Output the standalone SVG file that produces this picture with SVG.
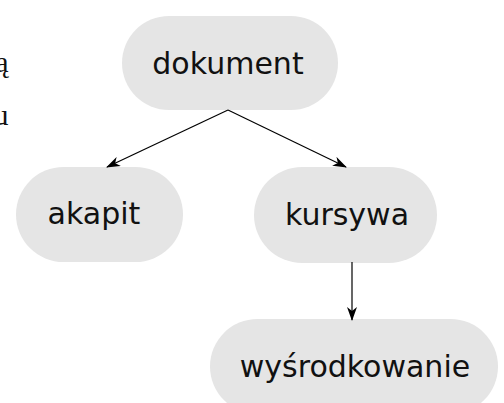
<svg xmlns="http://www.w3.org/2000/svg" width="504" height="403" viewBox="0 0 504 403">
<style>
.node rect{fill:#e5e5e5;stroke:none}
.node text{font-family:"DejaVu Sans",sans-serif;font-size:30px;fill:#111;text-anchor:middle}
.side{font-family:"Liberation Serif",serif;font-size:30px;fill:#111;text-anchor:end}
.edge{stroke:#000;stroke-width:1.2;fill:none;marker-end:url(#arr)}
</style>
<defs>
<marker id="arr" viewBox="0 0 14 10" refX="13" refY="5" markerWidth="14" markerHeight="10" markerUnits="userSpaceOnUse" orient="auto">
<path d="M0,0 L14,5 L0,10 L4,5 Z" fill="#000"/>
</marker>
</defs>
<rect width="504" height="403" fill="#fff"/>
<text class="side" x="8.5" y="72">ą</text>
<text class="side" x="8.5" y="125">u</text>
<g id="dokument" class="node"><rect x="122" y="16" width="216" height="94" rx="47"/><text x="228" y="74">dokument</text></g>
<g id="akapit" class="node"><rect x="16" y="167" width="167" height="95" rx="47.5"/><text x="94" y="224">akapit</text></g>
<g id="kursywa" class="node"><rect x="254" y="167" width="183" height="96" rx="48"/><text x="347" y="225">kursywa</text></g>
<g id="wysrodkowanie" class="node"><rect x="210" y="319" width="288" height="95" rx="47.5"/><text x="355" y="377">wyśrodkowanie</text></g>
<g id="connectors">
<line class="edge" x1="228" y1="110" x2="107" y2="167"/>
<line class="edge" x1="228" y1="110" x2="346" y2="167"/>
<line class="edge" x1="352" y1="262" x2="352" y2="320"/>
</g>
</svg>
